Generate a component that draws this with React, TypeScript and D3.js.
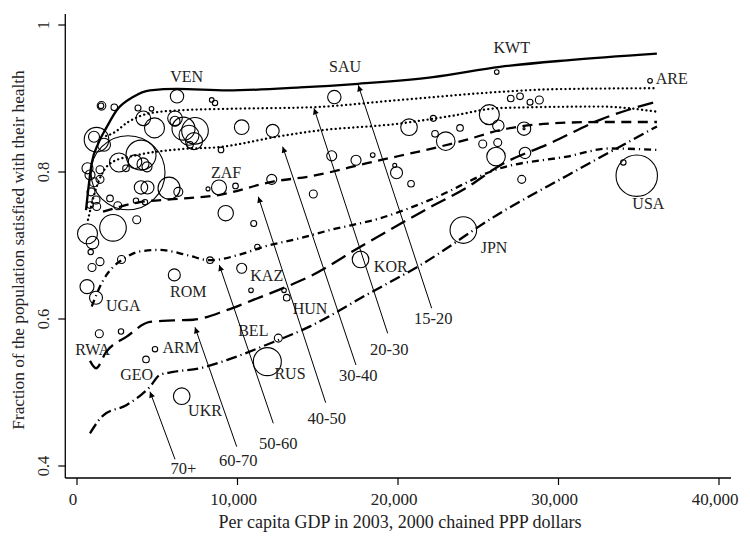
import React from 'react'
import * as d3 from 'd3'

const W = 750
const H = 551

// countries: [gdp per capita, share satisfied, population in millions]
const countries: [number, number, number][] = [
  [6231, 0.903, 29.5], [8393, 0.898, 3.5], [8599, 0.894, 4.8], [1527, 0.89, 12.2], [1495, 0.89, 5.2],
  [2324, 0.888, 7.2], [3801, 0.887, 5.9], [4642, 0.886, 3.5], [4131, 0.873, 35.1], [4829, 0.86, 65.8],
  [6106, 0.873, 35.1], [6106, 0.869, 16.5], [6636, 0.859, 87], [7353, 0.856, 116.4], [6979, 0.85, 65.8],
  [7290, 0.842, 47.5], [7041, 0.837, 7.2], [10262, 0.861, 35.1], [12194, 0.856, 27.8], [8973, 0.83, 5.2],
  [1215, 0.844, 99.5], [1059, 0.848, 19.9], [1682, 0.837, 27.8], [3178, 0.799, 900], [3988, 0.823, 148],
  [2617, 0.813, 59.4], [3614, 0.814, 30.4], [4112, 0.811, 23.7], [4362, 0.807, 16.5], [3053, 0.805, 7.2],
  [654, 0.805, 19.9], [1433, 0.803, 10.5], [810, 0.796, 16.5], [1433, 0.79, 10.5], [1059, 0.786, 13.3],
  [3988, 0.779, 29.5], [4393, 0.779, 27.8], [5733, 0.778, 79.6], [6312, 0.773, 13.3], [872, 0.773, 10.5],
  [2056, 0.764, 7.2], [1184, 0.762, 10.5], [2542, 0.754, 10.5], [3676, 0.761, 4.8], [4237, 0.759, 4.8],
  [3720, 0.735, 10.5], [2243, 0.724, 116.4], [654, 0.716, 65.8], [966, 0.704, 26.1], [854, 0.691, 4.8],
  [1433, 0.678, 10.5], [935, 0.67, 10.5], [2773, 0.681, 10.5], [623, 0.644, 32.2], [1184, 0.629, 27.8],
  [810, 0.755, 7.2], [1228, 0.753, 10.5], [8848, 0.779, 37], [8163, 0.777, 2.6], [9876, 0.781, 5.2],
  [9266, 0.744, 39], [12132, 0.79, 16.5], [11010, 0.73, 5.9], [11234, 0.698, 4.8], [14724, 0.77, 10.5],
  [8287, 0.68, 7.2], [10262, 0.669, 16.5], [6063, 0.66, 23.7], [10842, 0.639, 3.5], [12898, 0.639, 3.5],
  [13066, 0.629, 7.2], [1390, 0.58, 10.5], [2742, 0.583, 4.8], [4860, 0.559, 4.8], [4299, 0.545, 7.2],
  [11858, 0.542, 129], [12543, 0.574, 10.5], [6524, 0.495, 45.3], [16032, 0.902, 29.5], [26152, 0.936, 3.5],
  [27024, 0.9, 7.2], [27603, 0.903, 7.2], [28226, 0.895, 5.9], [28806, 0.898, 10.5], [25690, 0.878, 65.8],
  [26251, 0.863, 21.4], [22201, 0.873, 5.9], [20687, 0.861, 45.3], [23865, 0.86, 7.2], [22307, 0.852, 7.2],
  [22974, 0.842, 56.9], [25279, 0.838, 10.5], [26214, 0.84, 10.5], [27853, 0.859, 29.5], [27853, 0.859, 0.7],
  [26108, 0.821, 56.9], [27915, 0.826, 21.4], [27709, 0.79, 10.5], [15870, 0.822, 16.5], [17384, 0.816, 16.5],
  [18425, 0.823, 3.5], [19908, 0.799, 23.7], [19796, 0.809, 2.6], [20812, 0.784, 7.2], [24071, 0.721, 116.4],
  [17665, 0.681, 45.3], [35704, 0.924, 3.5], [34875, 0.795, 282], [34040, 0.813, 4.8],
]

const countryLabels: [string, number, number][] = [
  ['VEN', 6835, 0.93], ['SAU', 16699, 0.944], ['KWT', 27086, 0.969], ['ARE', 37056, 0.927],
  ['ZAF', 9284, 0.8], ['USA', 35598, 0.757], ['JPN', 25983, 0.697], ['KOR', 19547, 0.672],
  ['KAZ', 11820, 0.66], ['ROM', 6935, 0.637], ['UGA', 2885, 0.619], ['HUN', 14518, 0.615],
  ['BEL', 10985, 0.584], ['RWA', 978, 0.558], ['ARM', 6461, 0.561], ['GEO', 3720, 0.525],
  ['RUS', 13272, 0.526], ['UKR', 7976, 0.475],
]

// smoothed satisfaction by age group
const age1520 = [[560, 0.748], [916, 0.812], [1327, 0.839], [1850, 0.861], [2473, 0.884], [3489, 0.902],
  [4548, 0.911], [6230, 0.913], [9345, 0.911], [13890, 0.915], [17510, 0.92], [22180, 0.929],
  [26350, 0.943], [30530, 0.952], [36130, 0.961]]
const age2030 = [[1807, 0.849], [2261, 0.853], [3177, 0.868], [4548, 0.88], [6417, 0.884], [9532, 0.886],
  [14516, 0.888], [20123, 0.898], [26353, 0.909], [29468, 0.9125], [36134, 0.914]]
const age3040 = [[685, 0.735], [1121, 0.773], [1620, 0.8], [2243, 0.814], [3738, 0.823], [6417, 0.831],
  [8909, 0.834], [12460, 0.848], [14516, 0.855], [20123, 0.866], [23240, 0.876], [26353, 0.887],
  [32583, 0.889], [36134, 0.882]]
const age4050 = [[1620, 0.746], [3925, 0.759], [5981, 0.763], [8909, 0.769], [12211, 0.787], [14516, 0.794],
  [18067, 0.812], [24297, 0.844], [26353, 0.857], [29468, 0.866], [32583, 0.868], [36134, 0.868]]
const age5060 = [[916, 0.617], [1639, 0.653], [2261, 0.671], [2990, 0.683], [3925, 0.692], [5171, 0.694],
  [6853, 0.687], [8286, 0.68], [10342, 0.689], [11588, 0.698], [13893, 0.71], [15762, 0.721],
  [18877, 0.737], [21995, 0.762], [26353, 0.805], [30527, 0.821], [33206, 0.832], [36134, 0.83]]
const age6070 = [[810, 0.543], [1184, 0.533], [1807, 0.555], [3096, 0.576], [4548, 0.596], [6000, 0.598],
  [7246, 0.599], [9327, 0.612], [10984, 0.626], [13064, 0.644], [14516, 0.658], [17632, 0.698],
  [21995, 0.752], [24297, 0.779], [26353, 0.809], [29468, 0.839], [32583, 0.871], [36134, 0.896]]
const age70 = [[810, 0.4445], [1639, 0.469], [3096, 0.483], [4548, 0.508], [5171, 0.524], [6000, 0.528],
  [7663, 0.533], [9327, 0.544], [11819, 0.565], [14516, 0.59], [18049, 0.633], [21369, 0.673],
  [26353, 0.744], [30527, 0.795], [36134, 0.862]]

const ageGroups = ['15-20', '20-30', '30-40', '40-50', '50-60', '60-70', '70+']
const ageCurves = [age1520, age2030, age3040, age4050, age5060, age6070, age70]
// arrow from label to curve: [gdpFrom, satFrom, gdpTo, satTo], label at [gdp, sat]
const ageArrows = [
  [22098, 0.6146, 17525, 0.918], [19357, 0.5805, 14765, 0.8867], [17382, 0.5374, 12815, 0.8344],
  [15494, 0.4861, 11295, 0.7664], [12230, 0.4581, 8865, 0.6735], [9950, 0.4263, 7352, 0.5887],
  [6106, 0.4091, 4548, 0.5011],
]
const ageLabelPos = [[22201, 0.601], [19460, 0.559], [17528, 0.524], [15559, 0.465], [12543, 0.431],
  [10051, 0.408], [6624, 0.397]]
const dashes = ['none', '0.1 4.3', '0.1 4.3', '10 6.5', '7 4 1.2 4', '16 7', '11 4 1.2 4']

const xTicks = [0, 10000, 20000, 30000, 40000]
const yTicks = [0.4, 0.6, 0.8, 1]

const FONT = "'Liberation Serif', 'Times New Roman', serif"

export default function App() {
  const x = d3.scaleLinear().domain([0, 40000]).range([77, 719])
  const y = d3.scaleLinear().domain([0.4, 1]).range([466, 25])
  const r = d3.scaleSqrt().domain([0, 300]).range([0, 21.36])
  const line = d3.line<number[]>().x(d => x(d[0])).y(d => y(d[1])).curve(d3.curveMonotoneX)

  const axL = x(-730)
  const axR = x(40750)
  const axT = y(1.015)
  const axB = y(0.3837)

  return (
    <div>
      <style>{'body{margin:0}'}</style>
      <svg width={W} height={H} style={{ display: 'block', background: '#fff' }} fontFamily={FONT}>
        <defs>
          <marker id="ah" viewBox="0 0 10 10" refX="10" refY="5" markerWidth="8" markerHeight="6"
            markerUnits="userSpaceOnUse" orient="auto">
            <path d="M0,0 L10,5 L0,10 z" fill="#000" />
          </marker>
        </defs>

        {/* axes */}
        <line x1={axL} x2={axL} y1={axT} y2={axB} stroke="#000" strokeWidth={1.3} />
        <line x1={axL} x2={axR} y1={axB} y2={axB} stroke="#000" strokeWidth={1.3} />
        {xTicks.map(t => (
          <g key={t}>
            <line x1={x(t)} x2={x(t)} y1={axB} y2={axB + 7} stroke="#000" strokeWidth={1.2} />
            <text x={x(t) - 4} y={505} fontSize={17} textAnchor="middle" fill="#222">{d3.format(',')(t)}</text>
          </g>
        ))}
        {yTicks.map(t => (
          <g key={t}>
            <line x1={axL - 7} x2={axL} y1={y(t)} y2={y(t)} stroke="#000" strokeWidth={1.2} />
            <text transform={`translate(49,${y(t)}) rotate(-90)`} fontSize={16.5} textAnchor="middle" fill="#222">
              {t === 1 ? '1' : d3.format('.1f')(t)}
            </text>
          </g>
        ))}
        <text x={400} y={528} fontSize={18} textAnchor="middle" fill="#222">
          Per capita GDP in 2003, 2000 chained PPP dollars
        </text>
        <text transform="translate(24,250) rotate(-90)" fontSize={17.3} textAnchor="middle" fill="#222">
          Fraction of the population satisfied with their health
        </text>

        {/* countries */}
        {countries.map((c, i) => (
          <circle key={i} cx={x(c[0])} cy={y(c[1])} r={r(c[2])} fill="none" stroke="#000" strokeWidth={1.1} />
        ))}
        {countryLabels.map(l => (
          <text key={l[0]} x={x(l[1])} y={y(l[2])} dy="0.35em" fontSize={16} textAnchor="middle" fill="#222">
            {l[0]}
          </text>
        ))}

        {/* age curves */}
        {ageCurves.map((c, i) => (
          <path key={i} d={line(c) || ''} fill="none" stroke="#000" strokeWidth={2.3}
            strokeDasharray={dashes[i]} strokeLinecap={i === 1 || i === 2 ? 'round' : 'butt'} />
        ))}
        {ageArrows.map((a, i) => (
          <line key={i} x1={x(a[0])} y1={y(a[1])} x2={x(a[2])} y2={y(a[3])} stroke="#000"
            strokeWidth={1} markerEnd="url(#ah)" />
        ))}
        {ageGroups.map((g, i) => (
          <text key={g} x={x(ageLabelPos[i][0])} y={y(ageLabelPos[i][1])} dy="0.35em" fontSize={16.5}
            textAnchor="middle" fill="#222">{g}</text>
        ))}
      </svg>
    </div>
  )
}
